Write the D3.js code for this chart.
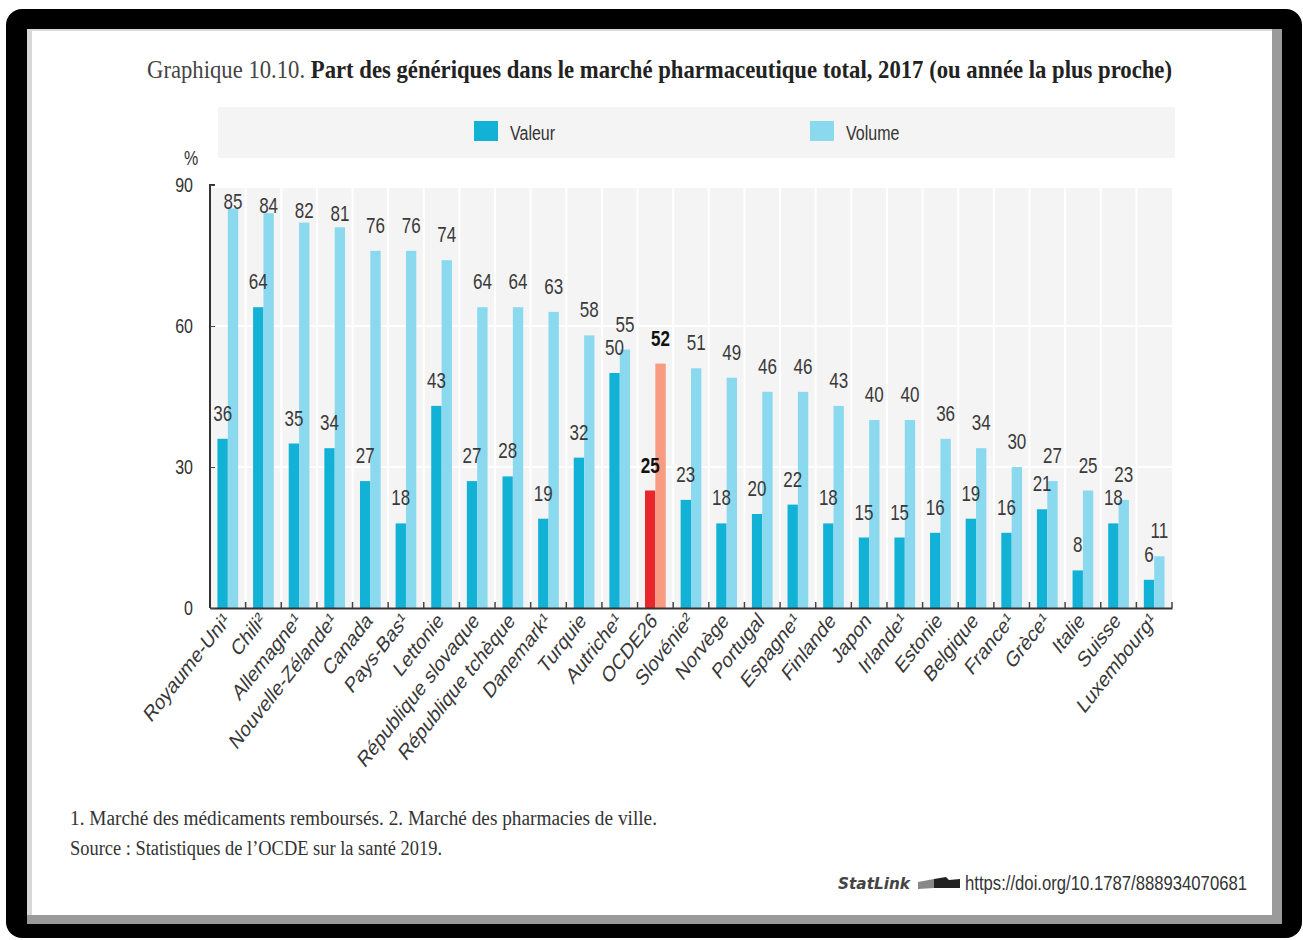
<!DOCTYPE html>
<html>
<head>
<meta charset="utf-8">
<script src="https://cdn.jsdelivr.net/npm/d3@7"></script>
<style>
  html, body { margin: 0; padding: 0; background: #ffffff; }
  svg { display: block; }
</style>
</head>
<body>
<svg id="chart" width="1303" height="940"></svg>
<script>
// Generic medicines share of the total pharmaceutical market, 2017
const countries = [
  "Royaume-Uni¹", "Chili²", "Allemagne¹", "Nouvelle-Zélande¹", "Canada", "Pays-Bas¹",
  "Lettonie", "République slovaque", "République tchèque", "Danemark¹", "Turquie",
  "Autriche¹", "OCDE26", "Slovénie²", "Norvège", "Portugal", "Espagne¹", "Finlande",
  "Japon", "Irlande¹", "Estonie", "Belgique", "France¹", "Grèce¹", "Italie", "Suisse",
  "Luxembourg¹"
];
const valeur = [36, 64, 35, 34, 27, 18, 43, 27, 28, 19, 32, 50, 25, 23, 18, 20, 22, 18, 15, 15, 16, 19, 16, 21, 8, 18, 6];
const volume = [85, 84, 82, 81, 76, 76, 74, 64, 64, 63, 58, 55, 52, 51, 49, 46, 46, 43, 40, 40, 36, 34, 30, 27, 25, 23, 11];
const yTicks = [0, 30, 60, 90];
const seriesNames = ["Valeur", "Volume"];
const highlight = "OCDE26";

const colValeur = "#12b1d6", colVolume = "#8bd9ef";
const colValeurHi = "#e8262b", colVolumeHi = "#f89b80";
const sans = "'Liberation Sans', Arial, sans-serif";
const serif = "'Liberation Serif', 'DejaVu Serif', serif";
const SY = 1.25; // tall, narrow lettering

const svg = d3.select("#chart");

// place a text at (x, y) with a vertical stretch
function tall(sel, x, y, sy = SY) {
  return sel.attr("x", 0).attr("y", 0).attr("transform", `translate(${x},${y}) scale(1,${sy})`);
}

// Frame: black rounded border with grey bevel
svg.append("rect").attr("x", 6).attr("y", 9).attr("width", 1296).attr("height", 929)
  .attr("rx", 16).attr("fill", "#000");
svg.append("rect").attr("x", 27).attr("y", 29).attr("width", 1255).attr("height", 895)
  .attr("fill", "#9a9a9a");
svg.append("rect").attr("x", 27).attr("y", 29).attr("width", 1245).attr("height", 886)
  .attr("fill", "#d8d8d8");
svg.append("rect").attr("x", 32).attr("y", 31).attr("width", 1240).attr("height", 884)
  .attr("fill", "#fff");

// Title
const title = tall(svg.append("text"), 147, 78, 1.2)
  .attr("font-family", serif).attr("font-size", 21).attr("fill", "#222")
  .attr("textLength", 1025).attr("lengthAdjust", "spacingAndGlyphs");
title.append("tspan").attr("fill", "#444").text("Graphique 10.10. ");
title.append("tspan").attr("font-weight", "bold")
  .text("Part des génériques dans le marché pharmaceutique total, 2017 (ou année la plus proche)");

// Legend
const legend = svg.append("g");
legend.append("rect").attr("x", 218).attr("y", 107).attr("width", 957).attr("height", 51).attr("fill", "#f4f4f4");
const legendX = [474, 810];
seriesNames.forEach((name, i) => {
  legend.append("rect").attr("x", legendX[i]).attr("y", 121).attr("width", 24).attr("height", 20)
    .attr("fill", i === 0 ? colValeur : colVolume);
  tall(legend.append("text"), legendX[i] + 36, 140)
    .attr("font-family", sans).attr("font-size", 16).attr("fill", "#333").text(name);
});

// Plot area
const plotLeft = 210, plotRight = 1172, plotTop = 185, plotBottom = 608;
const x = d3.scaleBand().domain(countries).range([plotLeft, plotRight]).paddingInner(0).paddingOuter(0);
const y = d3.scaleLinear().domain([0, 90]).range([plotBottom, plotTop]);
const sub = d3.scaleBand().domain(seriesNames).range([0, x.bandwidth()]).paddingOuter(0.72).paddingInner(0);

const plot = svg.append("g");
plot.append("rect").attr("x", plotLeft).attr("y", plotTop + 3).attr("width", plotRight - plotLeft)
  .attr("height", plotBottom - plotTop - 3).attr("fill", "#f4f4f4");
// white separators between categories and horizontal gridlines
plot.selectAll("line.vsep").data(countries.slice(1)).join("line")
  .attr("x1", d => x(d)).attr("x2", d => x(d)).attr("y1", plotTop).attr("y2", plotBottom)
  .attr("stroke", "#fff").attr("stroke-width", 2);
plot.selectAll("line.hgrid").data(yTicks.filter(t => t > 0 && t < 90)).join("line")
  .attr("x1", plotLeft).attr("x2", plotRight).attr("y1", d => y(d)).attr("y2", d => y(d))
  .attr("stroke", "#fff").attr("stroke-width", 2);

const rows = countries.map((c, i) => ({ c, v: [valeur[i], volume[i]] }));

const groups = plot.selectAll("g.grp").data(rows).join("g")
  .attr("transform", d => `translate(${x(d.c)},0)`);

const cells = d => d.v.map((val, j) => ({ c: d.c, s: seriesNames[j], val, j }));

groups.selectAll("rect").data(cells).join("rect")
  .attr("x", d => sub(d.s)).attr("width", sub.bandwidth())
  .attr("y", d => y(d.val)).attr("height", d => y(0) - y(d.val))
  .attr("fill", d => d.c === highlight ? (d.j === 0 ? colValeurHi : colVolumeHi) : (d.j === 0 ? colValeur : colVolume));

// value labels sit above each bar; close to the top of the scale they are pulled down onto the bar
const labelGap = v => 18 * Math.max(0, Math.min(1, (84 - v) / 8));
groups.selectAll("text").data(cells).join("text")
  .attr("transform", d => `translate(${sub(d.s) + sub.bandwidth() / 2},${y(d.val) - labelGap(d.val)}) scale(1,${SY})`)
  .attr("text-anchor", "middle")
  .attr("font-family", sans).attr("font-size", 17)
  .attr("font-weight", d => d.c === highlight ? "bold" : "normal")
  .attr("fill", d => d.c === highlight ? "#111" : "#3a3a3a")
  .text(d => d.val);

// Axes
const xAxis = plot.append("g").attr("transform", `translate(0,${plotBottom})`)
  .call(d3.axisBottom(x).tickSize(0).tickFormat(""));
xAxis.select(".domain").attr("stroke", "#333").attr("stroke-width", 2);
plot.selectAll("line.xtick").data(countries.slice(1).concat(["__end"])).join("line")
  .attr("x1", d => d === "__end" ? plotRight : x(d)).attr("x2", d => d === "__end" ? plotRight : x(d))
  .attr("y1", plotBottom).attr("y2", plotBottom - 6).attr("stroke", "#444").attr("stroke-width", 1.5);

plot.selectAll("text.xlab").data(countries).join("text")
  .attr("transform", d => `translate(${x(d) + x.bandwidth() / 2 + 3},${plotBottom + 14}) scale(1,1.27) rotate(-45)`)
  .attr("text-anchor", "end")
  .attr("font-family", sans).attr("font-size", 17.5).attr("fill", "#383838")
  .text(d => d);

const yAxis = plot.append("g").attr("transform", `translate(${plotLeft},0)`)
  .call(d3.axisLeft(y).tickValues(yTicks).tickSize(-5).tickPadding(14));
yAxis.select(".domain").attr("stroke", "#333").attr("stroke-width", 2).attr("d", `M5,${plotTop}H0V${plotBottom}`);
yAxis.selectAll(".tick line").attr("stroke", "#444");
yAxis.selectAll(".tick text")
  .attr("font-family", sans).attr("font-size", 16).attr("fill", "#333")
  .attr("dy", null).attr("x", null)
  .attr("transform", `translate(-17,6) scale(1,${SY})`);
tall(svg.append("text"), 191, 165).attr("text-anchor", "middle")
  .attr("font-family", sans).attr("font-size", 16).attr("fill", "#333").text("%");

// Notes and source
tall(svg.append("text"), 70, 825, 1.2)
  .attr("font-family", serif).attr("font-size", 18).attr("fill", "#333")
  .attr("textLength", 587).attr("lengthAdjust", "spacingAndGlyphs")
  .text("1. Marché des médicaments remboursés. 2. Marché des pharmacies de ville.");
tall(svg.append("text"), 70, 855, 1.2)
  .attr("font-family", serif).attr("font-size", 18).attr("fill", "#333")
  .attr("textLength", 372).attr("lengthAdjust", "spacingAndGlyphs")
  .text("Source : Statistiques de l’OCDE sur la santé 2019.");

// StatLink
tall(svg.append("text"), 838, 889, 1.1)
  .attr("font-family", "'DejaVu Sans', sans-serif").attr("font-size", 15).attr("font-style", "italic")
  .attr("font-weight", "bold").attr("fill", "#444")
  .attr("textLength", 72).attr("lengthAdjust", "spacingAndGlyphs").text("StatLink");
const icon = svg.append("g").attr("transform", "translate(918,876)");
icon.append("path").attr("d", "M0,6 L16,3 L16,12 L0,13 Z").attr("fill", "#888");
icon.append("path").attr("d", "M16,3 L28,1 L31,4 L42,3 L42,12 L16,12 Z").attr("fill", "#222");
tall(svg.append("text"), 965, 890, 1.2)
  .attr("font-family", sans).attr("font-size", 17).attr("fill", "#333")
  .attr("textLength", 282).attr("lengthAdjust", "spacingAndGlyphs")
  .text("https://doi.org/10.1787/888934070681");
</script>
</body>
</html>
